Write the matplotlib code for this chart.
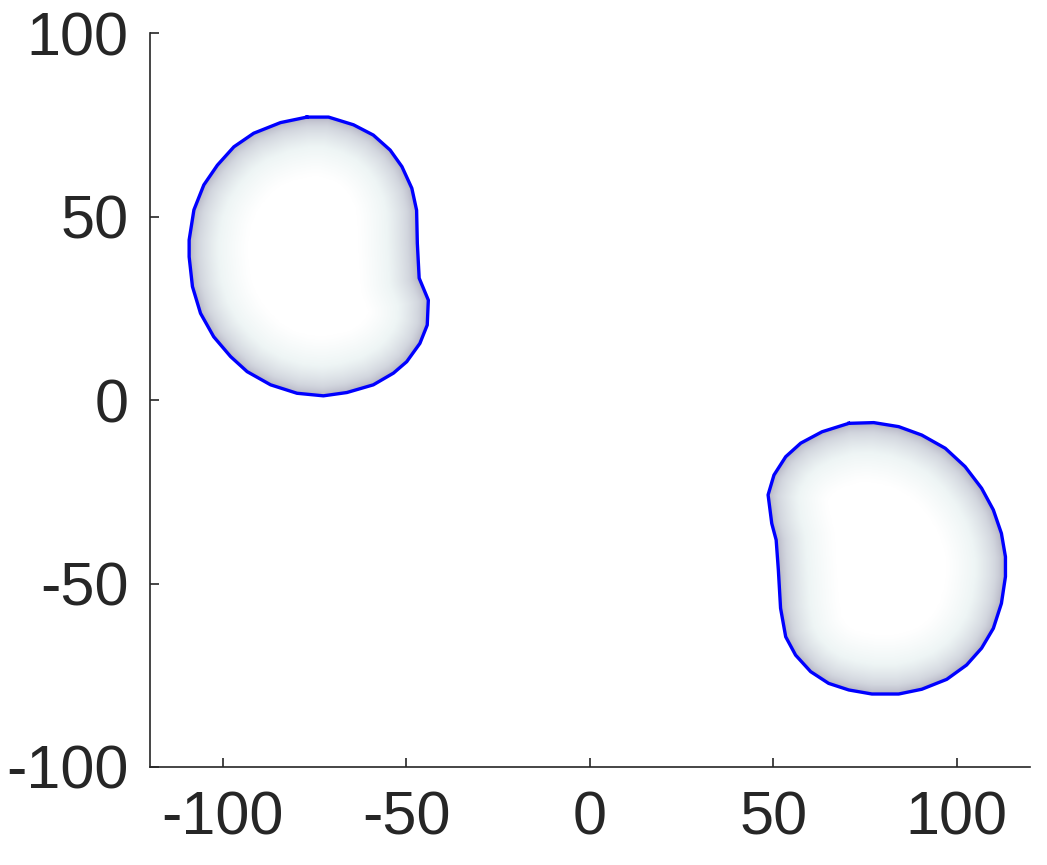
import numpy as np
import matplotlib
matplotlib.use("Agg")
import matplotlib.pyplot as plt
from matplotlib.colors import LinearSegmentedColormap
from matplotlib.patches import Polygon

# outline of the left blob (x, y)
blob1_x = [-77.1, -71.2, -64.4, -59.0, -54.4, -51.2, -48.5, -47.2, -47.0, -46.5,
           -44.0, -44.3, -46.3, -49.9, -53.5, -59.0, -66.2, -72.6, -79.8, -87.0,
           -93.4, -97.9, -102.5, -106.1, -108.3, -109.2, -109.2, -107.9, -105.2,
           -101.5, -97.0, -91.6, -84.3]
blob1_y = [77.2, 77.2, 75.1, 72.3, 68.2, 63.7, 57.8, 51.8, 42.8, 33.3,
           27.3, 20.5, 15.5, 10.5, 7.4, 4.2, 2.1, 1.2, 1.9, 4.2,
           7.8, 11.9, 17.3, 23.7, 31.0, 39.1, 43.7, 51.9, 58.7,
           64.1, 69.1, 72.8, 75.7]

# outline of the right blob
blob2_x = [70.6, 77.4, 84.2, 90.5, 96.9, 102.3, 106.8, 110.0, 112.2, 113.3,
           113.3, 112.2, 110.0, 106.8, 102.7, 97.3, 90.5, 84.2, 76.9, 70.6,
           65.1, 60.2, 56.1, 53.4, 52.0, 51.4, 50.8, 49.6, 48.6, 50.2,
           53.4, 57.5, 63.3]
blob2_y = [-6.3, -6.1, -7.2, -9.5, -13.1, -18.1, -24.0, -29.9, -36.3, -42.7,
           -48.1, -55.4, -62.2, -67.6, -72.2, -76.1, -78.8, -80.1, -80.1, -79.0,
           -77.2, -74.0, -69.5, -64.5, -56.7, -46.3, -38.1, -33.6, -25.8, -20.4,
           -15.4, -11.7, -8.6]

xticks = [-100, -50, 0, 50, 100]
yticks = [-100, -50, 0, 50, 100]

plt.rcParams['font.family'] = ['Liberation Sans', 'DejaVu Sans']

shade = LinearSegmentedColormap.from_list(
    'shade', ['#adabbd', '#d2d6de', '#eef5f5', '#ffffff'])


def edge_distance(px, py, bx, by):
    # smallest distance from each grid point to the closed outline
    ax_ = np.array(bx)
    ay_ = np.array(by)
    bx_ = np.roll(ax_, -1)
    by_ = np.roll(ay_, -1)
    d = np.full(px.shape, np.inf)
    for x0, y0, x1, y1 in zip(ax_, ay_, bx_, by_):
        dx, dy = x1 - x0, y1 - y0
        t = ((px - x0) * dx + (py - y0) * dy) / (dx * dx + dy * dy)
        t = np.clip(t, 0, 1)
        dd = np.hypot(px - (x0 + t * dx), py - (y0 + t * dy))
        d = np.minimum(d, dd)
    return d


def draw_blob(ax, bx, by):
    x0, x1 = min(bx) - 1, max(bx) + 1
    y0, y1 = min(by) - 1, max(by) + 1
    gx, gy = np.meshgrid(np.linspace(x0, x1, 300), np.linspace(y0, y1, 300))
    d = edge_distance(gx, gy, bx, by)
    val = np.clip(d / 16.0, 0, 1) ** 0.6
    im = ax.imshow(val, extent=(x0, x1, y0, y1), origin='lower', cmap=shade,
                   vmin=0, vmax=1, interpolation='bilinear', aspect='auto',
                   zorder=1)
    poly = Polygon(np.column_stack([bx, by]), closed=True,
                   facecolor='none', edgecolor='none')
    ax.add_patch(poly)
    im.set_clip_path(poly)
    ax.plot(bx + bx[:1], by + by[:1], color='#0000ff', lw=2.4, zorder=3)


fig = plt.figure(figsize=(10.47, 8.65), dpi=100)
ax = fig.add_axes([0.1428, 0.1133, 0.841, 0.848])

draw_blob(ax, blob1_x, blob1_y)
draw_blob(ax, blob2_x, blob2_y)

ax.set_xlim(-120, 120)
ax.set_ylim(-100, 100)
ax.set_xticks(xticks)
ax.set_yticks(yticks)
ax.set_xticklabels([str(v) for v in xticks])
ax.set_yticklabels([str(v) for v in yticks])

for s in ['top', 'right']:
    ax.spines[s].set_visible(False)
for s in ['left', 'bottom']:
    ax.spines[s].set_color('#262626')
    ax.spines[s].set_linewidth(1.2)

ax.tick_params(direction='in', length=6.5, width=1.2, color='#262626',
               labelsize=44, labelcolor='#262626')
ax.tick_params(axis='x', pad=17)
ax.tick_params(axis='y', pad=15)

fig.savefig('out.png', dpi=100)
